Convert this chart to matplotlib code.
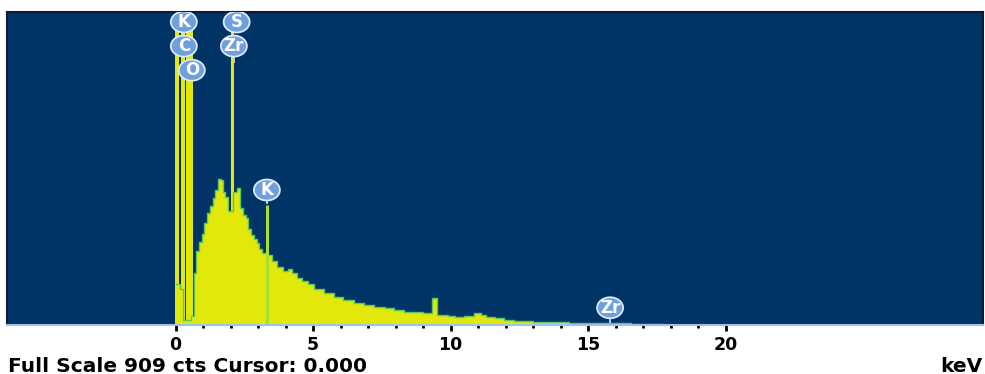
import numpy as np
import matplotlib.pyplot as plt
from matplotlib.patches import Ellipse

# EDS spectrum: continuum counts per energy step (keV)
energy = [0.0, 0.1, 0.2, 0.35, 0.5, 0.65, 0.72, 0.8, 0.9, 1.0, 1.1, 1.2, 1.3, 1.4,
          1.5, 1.6, 1.67, 1.75, 1.85, 1.95, 2.2, 2.3, 2.4, 2.5, 2.6, 2.7, 2.8, 2.9,
          3.0, 3.1, 3.2, 3.4, 3.6, 3.8, 4.0, 4.15, 4.3, 4.5, 4.7, 4.9, 5.2, 5.6,
          5.9, 6.3, 6.7, 7.0, 7.4, 7.8, 8.1, 8.5, 8.8, 9.2, 9.42, 9.6, 9.8, 10.0,
          10.3, 10.7, 11.0, 11.2, 11.4, 11.8, 12.1, 12.5, 12.8, 13.2, 13.6, 14.0,
          14.6, 15.2, 15.8, 16.3, 16.8, 17.2, 17.6, 17.9, 18.2]
counts = [120, 120, 105, 15, 15, 25, 150, 215, 240, 265, 295, 325, 345, 370,
          392, 425, 420, 385, 372, 330, 385, 397, 340, 320, 312, 280, 262, 250,
          238, 220, 210, 203, 185, 168, 158, 162, 150, 136, 128, 120, 104, 94,
          82, 73, 64, 58, 52, 48, 44, 39, 37, 34, 78, 30, 29, 26,
          23, 25, 35, 30, 22, 19, 15, 13, 12, 10, 9, 8,
          7, 6, 6, 5, 4, 3, 2, 1, 0]

# strong lines (off scale) and the K Ka line
line_kev = [0.05, 0.27, 0.45, 0.58, 2.06]
line_cts = [3000, 3000, 3000, 3000, 3000]
k_kev = 3.31
k_cts = 348

# element markers: label, energy, marker height (cts), stem bottom (cts)
marker_lbl = ["K", "C", "O", "S", "Zr", "K", "Zr"]
marker_kev = [0.30, 0.30, 0.59, 2.22, 2.12, 3.32, 15.8]
marker_cts = [880, 810, 740, 880, 810, 392, 50]
stem_end = [880, 810, 740, 880, 760, 350, 6]

full_scale = 909
tick_vals = [0, 5, 10, 15, 20]

yellow = "#e2e80a"
edge = "#5ac85a"

fig = plt.figure(figsize=(9.85, 3.74), dpi=100)
ax = fig.add_axes([7 / 985, 49 / 374, 976 / 985, 313 / 374])
ax.set_facecolor("#003366")
ax.set_xlim(-6.13, 29.36)
ax.set_ylim(0, full_scale)

ax.fill_between(energy, counts, step="mid", color=yellow, lw=0)
ax.step(energy, counts, where="mid", color=edge, lw=1.0)
ax.bar(line_kev, line_cts, width=0.12, color=yellow, edgecolor="none")
ax.vlines(k_kev, 0, k_cts, color="#a8e030", lw=2.2)

# bubble size in data units (about 26 x 21 px)
bw = 26 / 27.5
bh = 21 * full_scale / 313
for lbl, e, c, s in zip(marker_lbl, marker_kev, marker_cts, stem_end):
    if s < c:
        ax.vlines(e, s, c, color="#bcd8f5", lw=1.3, zorder=4)
    ax.add_patch(Ellipse((e, c), bw, bh, fc="#6f9fdc", ec="#dbe9fa", lw=1.3, zorder=5))
    ax.text(e, c, lbl, ha="center", va="center", color="white", fontsize=12,
            fontweight="bold", zorder=6)

ax.set_yticks([])
ax.set_xticks(tick_vals)
ax.set_xticklabels([str(v) for v in tick_vals], fontsize=12.5, fontweight="bold")
ax.set_xticks(np.arange(0, 21, 1), minor=True)
ax.tick_params(axis="x", which="major", length=4, width=2, color="black", pad=4)
ax.tick_params(axis="x", which="minor", length=2, width=2, color="black")

for side in ["top", "right", "left"]:
    ax.spines[side].set_color("#0b1a3d")
    ax.spines[side].set_linewidth(1.5)
ax.spines["bottom"].set_color("#9cc3ee")
ax.spines["bottom"].set_linewidth(1.5)

fig.text(0.008, 0.006, "Full Scale 909 cts Cursor: 0.000", fontsize=14.5,
         fontweight="bold", va="baseline")
fig.text(0.997, 0.006, "keV", fontsize=14.5, fontweight="bold",
         ha="right", va="baseline")

fig.savefig("out.png", dpi=100)
